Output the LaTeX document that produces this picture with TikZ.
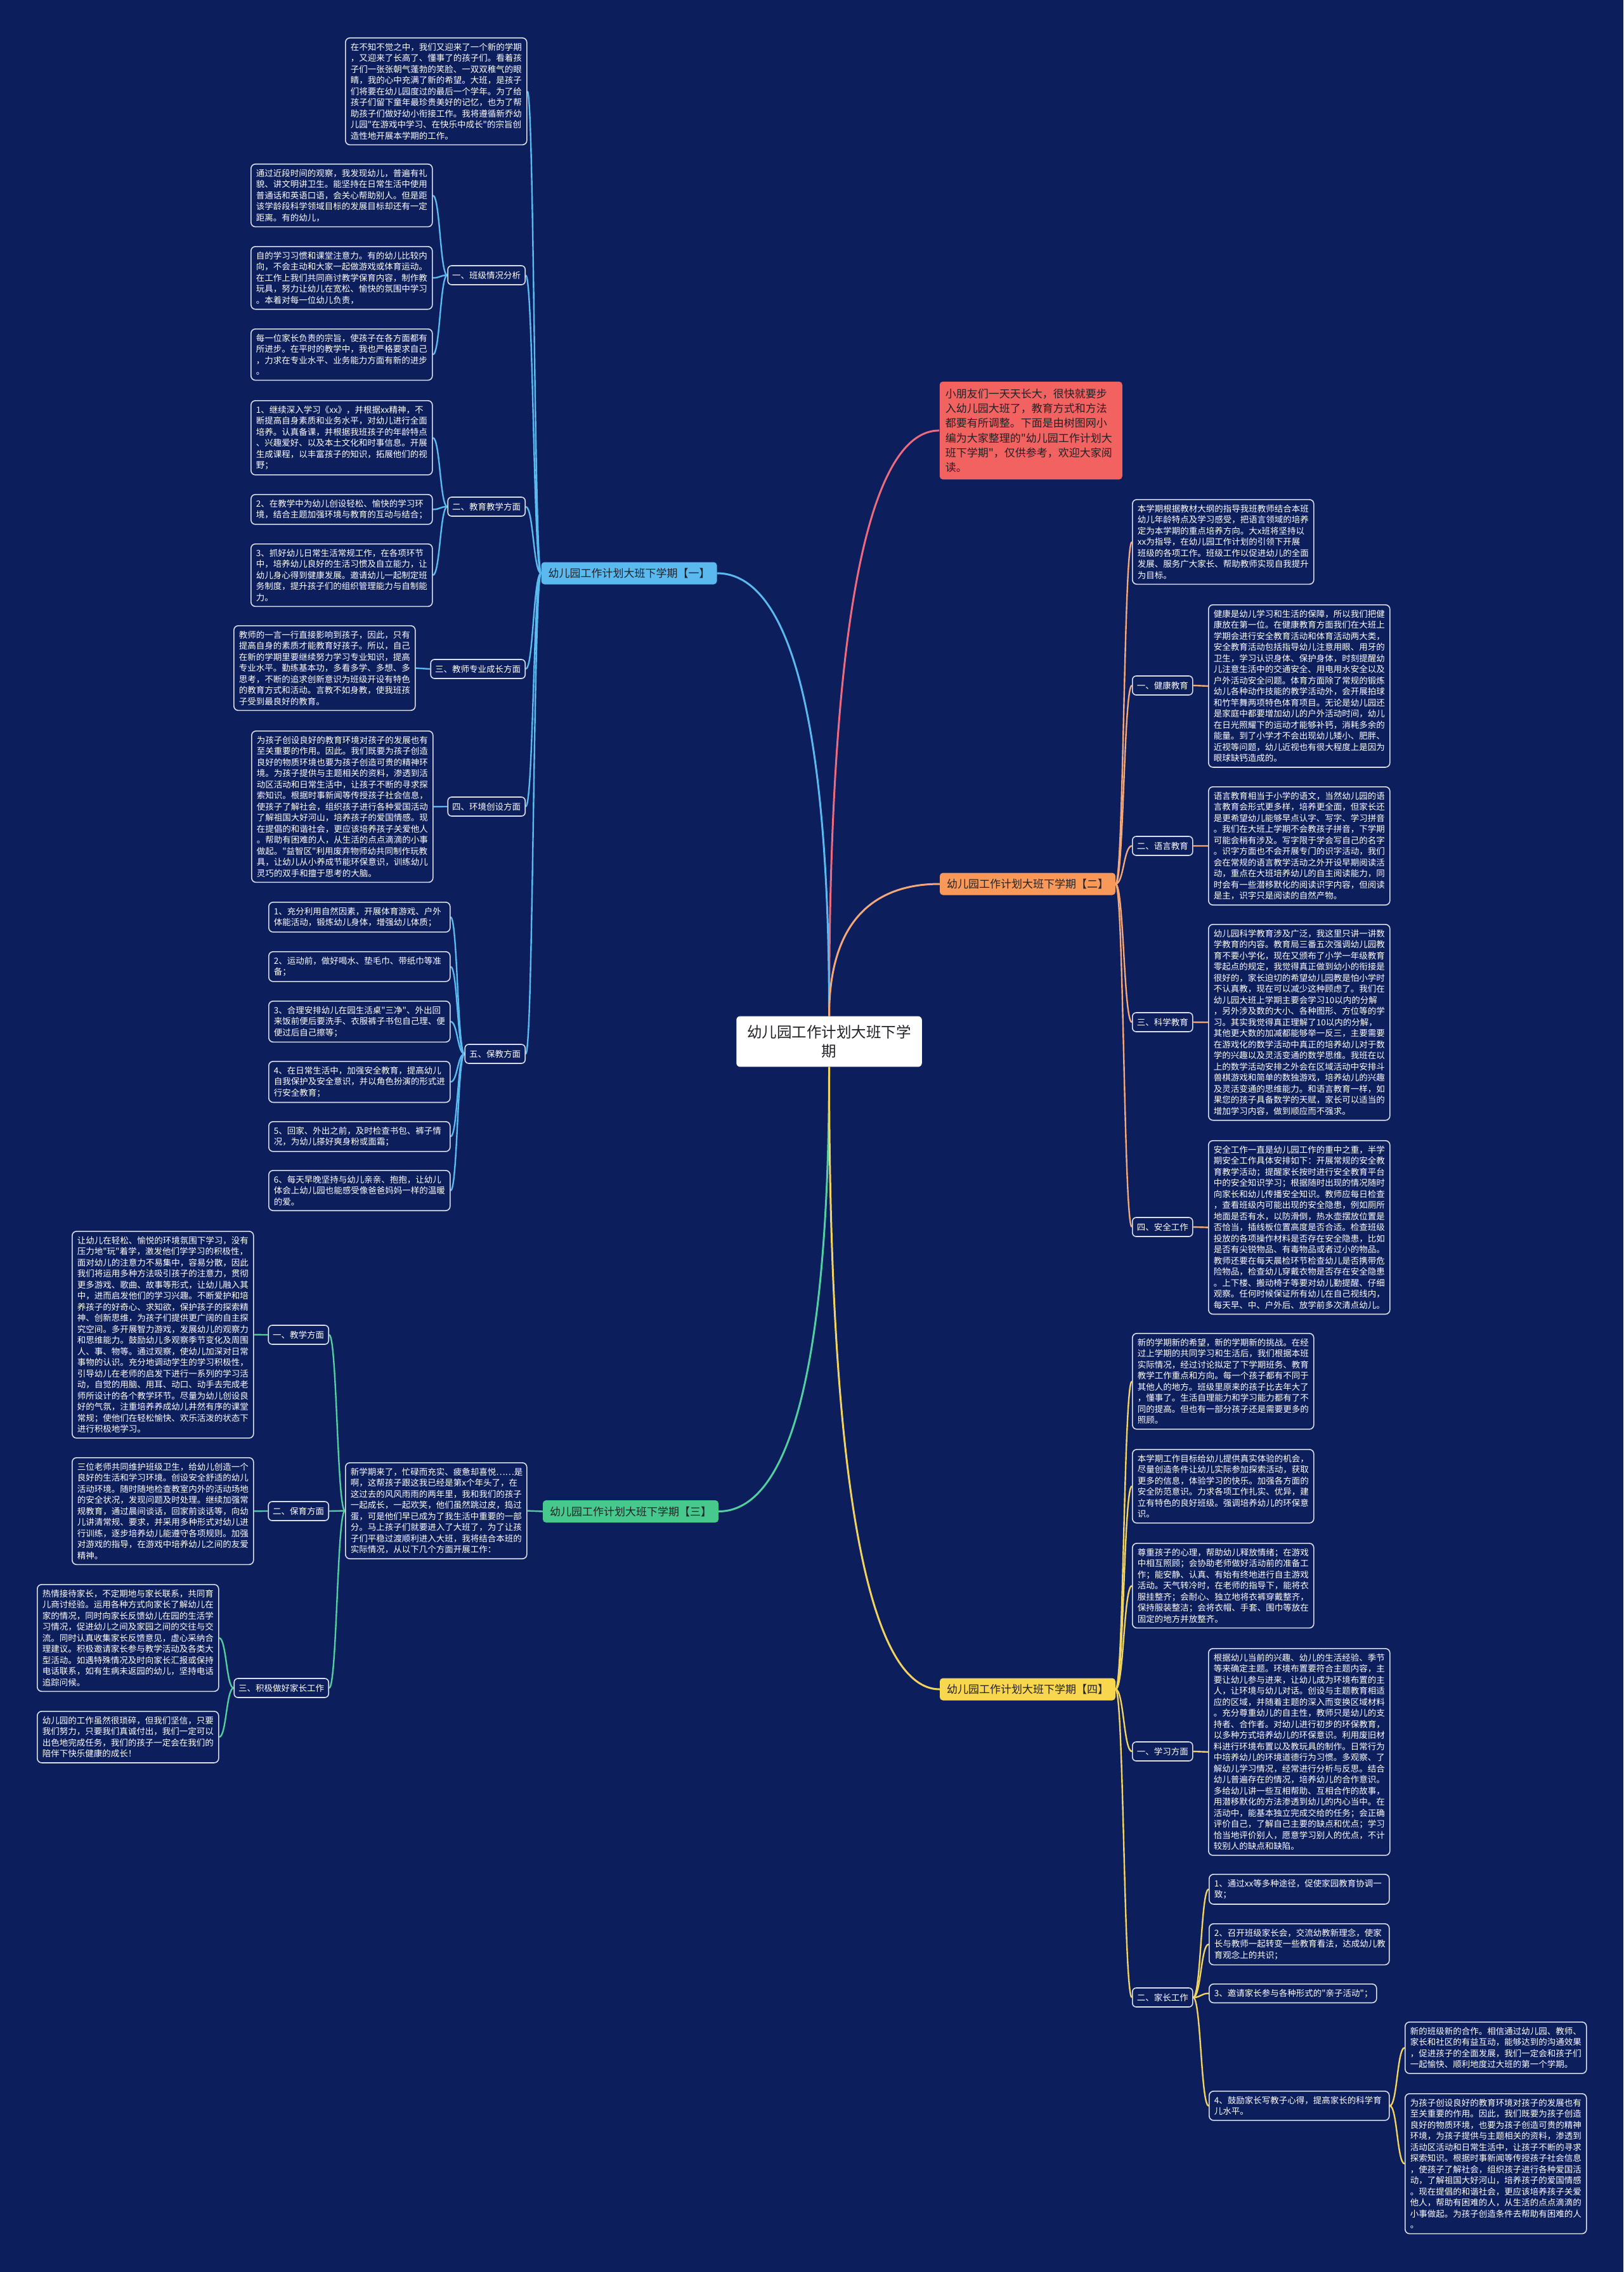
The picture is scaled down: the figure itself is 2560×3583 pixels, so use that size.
\documentclass[tikz,border=0pt]{standalone}
\usepackage{fontspec}
\setmainfont{Noto Sans CJK SC}[Ligatures=TeXOff]
\usetikzlibrary{calc}
\definecolor{bgc}{RGB}{12,30,92}
\definecolor{boxline}{RGB}{217,222,234}
\definecolor{topictext}{RGB}{34,34,40}
\definecolor{cblue}{RGB}{90,185,238}
\definecolor{corange}{RGB}{248,153,90}
\definecolor{lorange}{RGB}{244,168,120}
\definecolor{cgreen}{RGB}{71,201,142}
\definecolor{lgreen}{RGB}{82,207,160}
\definecolor{cyellow}{RGB}{248,214,78}
\definecolor{lyellow}{RGB}{241,211,95}
\definecolor{cred}{RGB}{242,98,97}
\definecolor{lred}{RGB}{238,106,126}
\pgfdeclarelayer{bglayer}
\pgfsetlayers{bglayer,main}

\begin{document}
\begin{tikzpicture}[x=1pt,y=-1pt,
  txt/.style={draw=boxline,line width=1.6pt,rounded corners=7pt,fill=bgc,text=white,
    font=\fontsize{13.5}{17.5}\selectfont,align=left,text width=270pt,
    inner xsep=8pt,inner ysep=8pt,anchor=north west},
  tag/.style={draw=boxline,line width=1.6pt,rounded corners=6pt,fill=bgc,text=white,
    font=\fontsize{13.5}{16}\selectfont,inner xsep=7pt,inner ysep=0pt,minimum height=30pt},
  topic/.style={rounded corners=5pt,text=topictext,font=\fontsize{17}{20}\selectfont,
    inner xsep=11pt,inner ysep=0pt,minimum height=35pt},
  lnk/.style={line width=2.4pt,to path={.. controls ($(\tikztostart)!0.5!(\tikztotarget|-\tikztostart)$) and ($(\tikztostart|-\tikztotarget)!0.5!(\tikztotarget)$) .. (\tikztotarget)}},
  hub/.style={line width=3pt,to path={.. controls ($(\tikztostart)!0.8!(\tikztostart|-\tikztotarget)$) and ($(\tikztostart|-\tikztotarget)!0.5!(\tikztotarget)$) .. (\tikztotarget)}}
]
\useasboundingbox (0,0) rectangle (2560,3583);

\node[fill=white,rounded corners=6pt,text=topictext,font=\fontsize{23.5}{30}\selectfont,align=center,inner xsep=17pt,inner ysep=14pt] (ctr) at (1307.5,1642.5) {幼儿园工作计划大班下学\\期};

\node[topic,fill=cblue] (T1) at (992,904) {幼儿园工作计划大班下学期【一】};
\node[topic,fill=corange] (T2) at (1620.5,1394) {幼儿园工作计划大班下学期【二】};
\node[topic,fill=cgreen] (T3) at (994.5,2383.5) {幼儿园工作计划大班下学期【三】};
\node[topic,fill=cyellow] (T4) at (1620.5,2664) {幼儿园工作计划大班下学期【四】};

\node[txt,draw=none,fill=cred,text=topictext,font=\fontsize{17}{23.3}\selectfont,inner xsep=9pt,inner ysep=11pt,rounded corners=5pt] (lead) at (1481,601) {小朋友们一天天长大，很快就要步\\入幼儿园大班了，教育方式和方法\\都要有所调整。下面是由树图网小\\编为大家整理的"幼儿园工作计划大\\班下学期"，仅供参考，欢迎大家阅\\读。};

% 一
\node[txt] (A0) at (544,59) {在不知不觉之中，我们又迎来了一个新的学期\\，又迎来了长高了、懂事了的孩子们。看着孩\\子们一张张朝气蓬勃的笑脸、一双双稚气的眼\\睛，我的心中充满了新的希望。大班，是孩子\\们将要在幼儿园度过的最后一个学年。为了给\\孩子们留下童年最珍贵美好的记忆，也为了帮\\助孩子们做好幼小衔接工作。我将遵循新乔幼\\儿园"在游戏中学习、在快乐中成长"的宗旨创\\造性地开展本学期的工作。};
\node[tag,anchor=east] (g11) at (829,434) {一、班级情况分析};
\node[tag,anchor=east] (g12) at (829,799) {二、教育教学方面};
\node[tag,anchor=east] (g13) at (829,1055) {三、教师专业成长方面};
\node[tag,anchor=east] (g14) at (829,1272) {四、环境创设方面};
\node[tag,anchor=east] (g15) at (829,1662) {五、保教方面};
\node[txt] (B1) at (395,258) {通过近段时间的观察，我发现幼儿，普遍有礼\\貌、讲文明讲卫生。能坚持在日常生活中使用\\普通话和英语口语，会关心帮助别人。但是距\\该学龄段科学领域目标的发展目标却还有一定\\距离。有的幼儿，};
\node[txt] (B2) at (395,388) {自的学习习惯和课堂注意力。有的幼儿比较内\\向，不会主动和大家一起做游戏或体育运动。\\在工作上我们共同商讨教学保育内容，制作教\\玩具，努力让幼儿在宽松、愉快的氛围中学习\\。本着对每一位幼儿负责，};
\node[txt] (B3) at (395,518) {每一位家长负责的宗旨，使孩子在各方面都有\\所进步。在平时的教学中，我也严格要求自己\\，力求在专业水平、业务能力方面有新的进步\\。};
\node[txt] (C1) at (395,631) {1、继续深入学习《xx》，并根据xx精神，不\\断提高自身素质和业务水平，对幼儿进行全面\\培养。认真备课，并根据我班孩子的年龄特点\\、兴趣爱好、以及本土文化和时事信息。开展\\生成课程，以丰富孩子的知识，拓展他们的视\\野；};
\node[txt] (C2) at (395,779) {2、在教学中为幼儿创设轻松、愉快的学习环\\境，结合主题加强环境与教育的互动与结合；};
\node[txt] (C3) at (395,857) {3、抓好幼儿日常生活常规工作，在各项环节\\中，培养幼儿良好的生活习惯及自立能力，让\\幼儿身心得到健康发展。邀请幼儿一起制定班\\务制度，提升孩子们的组织管理能力与自制能\\力。};
\node[txt] (D1) at (368,986) {教师的一言一行直接影响到孩子，因此，只有\\提高自身的素质才能教育好孩子。所以，自己\\在新的学期里要继续努力学习专业知识，提高\\专业水平。勤练基本功，多看多学、多想、多\\思考，不断的追求创新意识为班级开设有特色\\的教育方式和活动。言教不如身教，使我班孩\\子受到最良好的教育。};
\node[txt] (E1) at (396,1152) {为孩子创设良好的教育环境对孩子的发展也有\\至关重要的作用。因此。我们既要为孩子创造\\良好的物质环境也要为孩子创造可贵的精神环\\境。为孩子提供与主题相关的资料，渗透到活\\动区活动和日常生活中，让孩子不断的寻求探\\索知识。根据时事新闻等传授孩子社会信息，\\使孩子了解社会，组织孩子进行各种爱国活动\\了解祖国大好河山，培养孩子的爱国情感。现\\在提倡的和谐社会，更应该培养孩子关爱他人\\。帮助有困难的人，从生活的点点滴滴的小事\\做起。"益智区"利用废弃物师幼共同制作玩教\\具，让幼儿从小养成节能环保意识，训练幼儿\\灵巧的双手和擅于思考的大脑。};
\node[txt] (F1) at (423,1422) {1、充分利用自然因素，开展体育游戏、户外\\体能活动，锻炼幼儿身体，增强幼儿体质；};
\node[txt] (F2) at (423,1500) {2、运动前，做好喝水、垫毛巾、带纸巾等准\\备；};
\node[txt] (F3) at (423,1578) {3、合理安排幼儿在园生活桌"三净"、外出回\\来饭前便后要洗手、衣服裤子书包自己理、便\\便过后自己擦等；};
\node[txt] (F4) at (423,1673) {4、在日常生活中，加强安全教育，提高幼儿\\自我保护及安全意识，并以角色扮演的形式进\\行安全教育；};
\node[txt] (F5) at (423,1768) {5、回家、外出之前，及时检查书包、裤子情\\况，为幼儿搽好爽身粉或面霜；};
\node[txt] (F6) at (423,1845) {6、每天早晚坚持与幼儿亲亲、抱抱，让幼儿\\体会上幼儿园也能感受像爸爸妈妈一样的温暖\\的爱。};

% 二
\node[txt] (L0) at (1785,787) {本学期根据教材大纲的指导我班教师结合本班\\幼儿年龄特点及学习感受，把语言领域的培养\\定为本学期的重点培养方向。大x班将坚持以\\xx为指导，在幼儿园工作计划的引领下开展\\班级的各项工作。班级工作以促进幼儿的全面\\发展、服务广大家长、帮助教师实现自我提升\\为目标。};
\node[tag,anchor=west] (g21) at (1785,1081) {一、健康教育};
\node[tag,anchor=west] (g22) at (1785,1334) {二、语言教育};
\node[tag,anchor=west] (g23) at (1785,1612) {三、科学教育};
\node[tag,anchor=west] (g24) at (1785,1935) {四、安全工作};
\node[txt] (M1) at (1905,953) {健康是幼儿学习和生活的保障，所以我们把健\\康放在第一位。在健康教育方面我们在大班上\\学期会进行安全教育活动和体育活动两大类，\\安全教育活动包括指导幼儿注意用眼、用牙的\\卫生，学习认识身体、保护身体，时刻提醒幼\\儿注意生活中的交通安全、用电用水安全以及\\户外活动安全问题。体育方面除了常规的锻炼\\幼儿各种动作技能的教学活动外，会开展拍球\\和竹竿舞两项特色体育项目。无论是幼儿园还\\是家庭中都要增加幼儿的户外活动时间，幼儿\\在日光照耀下的运动才能够补钙，消耗多余的\\能量。到了小学才不会出现幼儿矮小、肥胖、\\近视等问题，幼儿近视也有很大程度上是因为\\眼球缺钙造成的。};
\node[txt] (M2) at (1905,1240) {语言教育相当于小学的语文，当然幼儿园的语\\言教育会形式更多样，培养更全面，但家长还\\是更希望幼儿能够早点认字、写字、学习拼音\\。我们在大班上学期不会教孩子拼音，下学期\\可能会稍有涉及。写字限于学会写自己的名字\\。识字方面也不会开展专门的识字活动，我们\\会在常规的语言教学活动之外开设早期阅读活\\动，重点在大班培养幼儿的自主阅读能力，同\\时会有一些潜移默化的阅读识字内容，但阅读\\是主，识字只是阅读的自然产物。};
\node[txt] (N1) at (1905,1457) {幼儿园科学教育涉及广泛，我这里只讲一讲数\\学教育的内容。教育局三番五次强调幼儿园教\\育不要小学化，现在又颁布了小学一年级教育\\零起点的规定，我觉得真正做到幼小的衔接是\\很好的，家长迫切的希望幼儿园教是怕小学时\\不认真教，现在可以减少这种顾虑了。我们在\\幼儿园大班上学期主要会学习10以内的分解\\，另外涉及数的大小、各种图形、方位等的学\\习。其实我觉得真正理解了10以内的分解，\\其他更大数的加减都能够举一反三，主要需要\\在游戏化的数学活动中真正的培养幼儿对于数\\学的兴趣以及灵活变通的数学思维。我班在以\\上的数学活动安排之外会在区域活动中安排斗\\兽棋游戏和简单的数独游戏，培养幼儿的兴趣\\及灵活变通的思维能力。和语言教育一样，如\\果您的孩子具备数学的天赋，家长可以适当的\\增加学习内容，做到顺应而不强求。};
\node[txt] (N2) at (1905,1798) {安全工作一直是幼儿园工作的重中之重，半学\\期安全工作具体安排如下：开展常规的安全教\\育教学活动；提醒家长按时进行安全教育平台\\中的安全知识学习；根据随时出现的情况随时\\向家长和幼儿传播安全知识。教师应每日检查\\，查看班级内可能出现的安全隐患，例如厕所\\地面是否有水，以防滑倒，热水壶摆放位置是\\否恰当，插线板位置高度是否合适。检查班级\\投放的各项操作材料是否存在安全隐患，比如\\是否有尖锐物品、有毒物品或者过小的物品。\\教师还要在每天晨检环节检查幼儿是否携带危\\险物品，检查幼儿穿戴衣物是否存在安全隐患\\。上下楼、搬动椅子等要对幼儿勤提醒、仔细\\观察。任何时候保证所有幼儿在自己视线内，\\每天早、中、户外后、放学前多次清点幼儿。};

% 三
\node[txt] (J1) at (544,2306) {新学期来了，忙碌而充实、疲惫却喜悦……是\\啊，这帮孩子跟这我已经是第x个年头了，在\\这过去的风风雨雨的两年里，我和我们的孩子\\一起成长，一起欢笑，他们虽然跳过皮，捣过\\蛋，可是他们早已成为了我生活中重要的一部\\分。马上孩子们就要进入了大班了，为了让孩\\子们平稳过渡顺利进入大班，我将结合本班的\\实际情况，从以下几个方面开展工作：};
\node[tag,anchor=east] (g31) at (519,2105) {一、教学方面};
\node[tag,anchor=east] (g32) at (519,2383) {二、保育方面};
\node[tag,anchor=east] (g33) at (519,2662) {三、积极做好家长工作};
\node[txt] (G1) at (113,1941) {让幼儿在轻松、愉悦的环境氛围下学习，没有\\压力地"玩"着学，激发他们学学习的积极性，\\面对幼儿的注意力不易集中，容易分散，因此\\我们将运用多种方法吸引孩子的注意力，贯彻\\更多游戏、歌曲、故事等形式，让幼儿融入其\\中，进而启发他们的学习兴趣。不断爱护和培\\养孩子的好奇心、求知欲，保护孩子的探索精\\神、创新思维，为孩子们提供更广阔的自主探\\究空间。多开展智力游戏，发展幼儿的观察力\\和思维能力。鼓励幼儿多观察季节变化及周围\\人、事、物等。通过观察，使幼儿加深对日常\\事物的认识。充分地调动学生的学习积极性，\\引导幼儿在老师的启发下进行一系列的学习活\\动，自觉的用脑、用耳、动口、动手去完成老\\师所设计的各个教学环节。尽量为幼儿创设良\\好的气氛，注重培养养成幼儿井然有序的课堂\\常规；使他们在轻松愉快、欢乐活泼的状态下\\进行积极地学习。};
\node[txt] (H1) at (113,2298) {三位老师共同维护班级卫生，给幼儿创造一个\\良好的生活和学习环境。创设安全舒适的幼儿\\活动环境。随时随地检查教室内外的活动场地\\的安全状况，发现问题及时处理。继续加强常\\规教育，通过晨间谈话，回家前谈话等，向幼\\儿讲清常规、要求，并采用多种形式对幼儿进\\行训练，逐步培养幼儿能遵守各项规则。加强\\对游戏的指导，在游戏中培养幼儿之间的友爱\\精神。};
\node[txt] (I1) at (58,2498) {热情接待家长，不定期地与家长联系，共同育\\儿商讨经验。运用各种方式向家长了解幼儿在\\家的情况，同时向家长反馈幼儿在园的生活学\\习情况，促进幼儿之间及家园之间的交往与交\\流。同时认真收集家长反馈意见，虚心采纳合\\理建议。积极邀请家长参与教学活动及各类大\\型活动。如遇特殊情况及时向家长汇报或保持\\电话联系，如有生病未返园的幼儿，坚持电话\\追踪问候。};
\node[txt] (I2) at (58,2698) {幼儿园的工作虽然很琐碎，但我们坚信，只要\\我们努力，只要我们真诚付出，我们一定可以\\出色地完成任务，我们的孩子一定会在我们的\\陪伴下快乐健康的成长！};

% 四
\node[txt] (P1) at (1785,2102) {新的学期新的希望，新的学期新的挑战。在经\\过上学期的共同学习和生活后，我们根据本班\\实际情况，经过讨论拟定了下学期班务、教育\\教学工作重点和方向。每一个孩子都有不同于\\其他人的地方。班级里原来的孩子比去年大了\\，懂事了。生活自理能力和学习能力都有了不\\同的提高。但也有一部分孩子还是需要更多的\\照顾。};
\node[txt] (P2) at (1785,2285) {本学期工作目标给幼儿提供真实体验的机会，\\尽量创造条件让幼儿实际参加探索活动，获取\\更多的信息，体验学习的快乐。加强各方面的\\安全防范意识。力求各项工作扎实、优异，建\\立有特色的良好班级。强调培养幼儿的环保意\\识。};
\node[txt] (P3) at (1785,2433) {尊重孩子的心理，帮助幼儿释放情绪；在游戏\\中相互照顾；会协助老师做好活动前的准备工\\作；能安静、认真、有始有终地进行自主游戏\\活动。天气转冷时，在老师的指导下，能将衣\\服挂整齐；会耐心、独立地将衣裤穿戴整齐，\\保持服装整洁；会将衣帽、手套、围巾等放在\\固定的地方并放整齐。};
\node[tag,anchor=west] (g41) at (1785,2762) {一、学习方面};
\node[tag,anchor=west] (g42) at (1785,3150) {二、家长工作};
\node[txt] (Q1) at (1905,2599) {根据幼儿当前的兴趣、幼儿的生活经验、季节\\等来确定主题。环境布置要符合主题内容，主\\要让幼儿参与进来，让幼儿成为环境布置的主\\人，让环境与幼儿对话。创设与主题教育相适\\应的区域，并随着主题的深入而变换区域材料\\。充分尊重幼儿的自主性，教师只是幼儿的支\\持者、合作者。对幼儿进行初步的环保教育，\\以多种方式培养幼儿的环保意识。利用废旧材\\料进行环境布置以及教玩具的制作。日常行为\\中培养幼儿的环境道德行为习惯。多观察、了\\解幼儿学习情况，经常进行分析与反思。结合\\幼儿普遍存在的情况，培养幼儿的合作意识。\\多给幼儿讲一些互相帮助、互相合作的故事，\\用潜移默化的方法渗透到幼儿的内心当中。在\\活动中，能基本独立完成交给的任务；会正确\\评价自己，了解自己主要的缺点和优点；学习\\恰当地评价别人，愿意学习别人的优点，不计\\较别人的缺点和缺陷。};
\node[txt,text width=268pt] (R1) at (1906,2955) {1、通过xx等多种途径，促使家园教育协调一\\致；};
\node[txt,text width=268pt] (R2) at (1906,3033) {2、召开班级家长会，交流幼教新理念，使家\\长与教师一起转变一些教育看法，达成幼儿教\\育观念上的共识；};
\node[txt,text width=248pt] (R3) at (1906,3128) {3、邀请家长参与各种形式的"亲子活动"；};
\node[txt,text width=268pt] (R4) at (1906,3297) {4、鼓励家长写教子心得，提高家长的科学育\\儿水平。};
\node[txt] (S1) at (2215,3188) {新的班级新的合作。相信通过幼儿园、教师、\\家长和社区的有益互动，能够达到的沟通效果\\，促进孩子的全面发展，我们一定会和孩子们\\一起愉快、顺利地度过大班的第一个学期。};
\node[txt] (S2) at (2215,3301) {为孩子创设良好的教育环境对孩子的发展也有\\至关重要的作用。因此，我们既要为孩子创造\\良好的物质环境，也要为孩子创造可贵的精神\\环境，为孩子提供与主题相关的资料，渗透到\\活动区活动和日常生活中，让孩子不断的寻求\\探索知识。根据时事新闻等传授孩子社会信息\\，使孩子了解社会，组织孩子进行各种爱国活\\动，了解祖国大好河山，培养孩子的爱国情感\\。现在提倡的和谐社会，更应该培养孩子关爱\\他人，帮助有困难的人，从生活的点点滴滴的\\小事做起。为孩子创造条件去帮助有困难的人\\。};

\begin{pgfonlayer}{bglayer}
\fill[bgc] (0,0) rectangle (2560,3583);
\draw[hub,lred] (ctr.north) to (lead.west);
\draw[hub,cblue] (ctr.north) to (T1.east);
\draw[hub,lorange] (ctr.north) to (T2.west);
\draw[hub,lgreen] (ctr.south) to (T3.east);
\draw[hub,lyellow] (ctr.south) to (T4.west);
\draw[lnk,cblue] (T1.west) to (A0.east) (T1.west) to (g11.east) (T1.west) to (g12.east)
  (T1.west) to (g13.east) (T1.west) to (g14.east) (T1.west) to (g15.east);
\draw[lnk,cblue] (g11.west) to (B1.east) (g11.west) to (B2.east) (g11.west) to (B3.east);
\draw[lnk,cblue] (g12.west) to (C1.east) (g12.west) to (C2.east) (g12.west) to (C3.east);
\draw[lnk,cblue] (g13.west) to (D1.east) (g14.west) to (E1.east);
\foreach \k in {F1,F2,F3,F4,F5,F6} \draw[lnk,cblue] (g15.west) to (\k.east);
\foreach \k in {L0,g21,g22,g23,g24} \draw[lnk,lorange] (T2.east) to (\k.west);
\draw[lnk,lorange] (g21.east) to (M1.west) (g22.east) to (M2.west) (g23.east) to (N1.west) (g24.east) to (N2.west);
\draw[lnk,lgreen] (T3.west) to (J1.east);
\foreach \k in {g31,g32,g33} \draw[lnk,lgreen] (J1.west) to (\k.east);
\draw[lnk,lgreen] (g31.west) to (G1.east) (g32.west) to (H1.east) (g33.west) to (I1.east) (g33.west) to (I2.east);
\foreach \k in {P1,P2,P3,g41,g42} \draw[lnk,lyellow] (T4.east) to (\k.west);
\draw[lnk,lyellow] (g41.east) to (Q1.west);
\foreach \k in {R1,R2,R3,R4} \draw[lnk,lyellow] (g42.east) to (\k.west);
\draw[lnk,lyellow] (R4.east) to (S1.west) (R4.east) to (S2.west);
\end{pgfonlayer}
\end{tikzpicture}
\end{document}
